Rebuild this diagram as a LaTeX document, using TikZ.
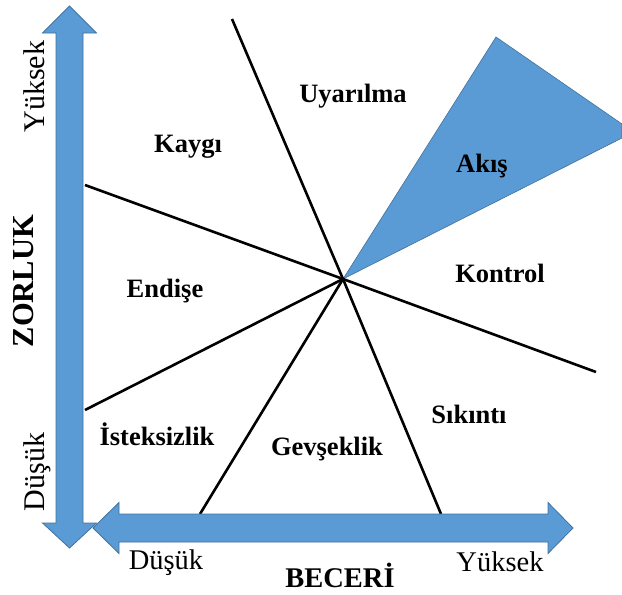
\documentclass[tikz,border=0pt]{standalone}
\usepackage{fontspec}
\setmainfont{Liberation Serif}
\usetikzlibrary{positioning}
\definecolor{axisblue}{HTML}{5B9BD5}
\definecolor{axisedge}{HTML}{41719C}
\tikzset{
  zone/.style={font=\bfseries\fontsize{26.5}{28}\selectfont, anchor=base, inner sep=0pt},
  scale label/.style={font=\fontsize{28.5}{30}\selectfont, anchor=base, inner sep=0pt},
  side label/.style={font=\fontsize{30}{31}\selectfont, anchor=base, inner sep=0pt, rotate=90},
  divider/.style={line width=2.6pt, black},
  axis arrow/.style={fill=axisblue, draw=axisedge, line width=0.8pt, line join=miter},
}
\begin{document}
\begin{tikzpicture}[x=1pt, y=-1pt]
  \useasboundingbox (0,0) rectangle (622,595);

  % Centre and end points
  \coordinate (c) at (343,279);
  \coordinate (top) at (232,19);
  \coordinate (right) at (596,372);
  \coordinate (left up) at (85,185);
  \coordinate (left down) at (85,410);
  \coordinate (bottom left) at (200,514);
  \coordinate (bottom right) at (441,514);
  \coordinate (apex) at (496,37);
  \coordinate (edge up) at (622,124);
  \coordinate (edge down) at (622,138);

  % Flow wedge
  \fill[axisblue, draw=axisedge, line width=0.6pt] (c) -- (apex) -- (edge up) -- (edge down) -- cycle;

  % Dividers
  \draw[divider] (c) -- (top);
  \draw[divider] (c) -- (right);
  \draw[divider] (c) -- (left up);
  \draw[divider] (c) -- (left down);
  \draw[divider] (c) -- (bottom left);
  \draw[divider] (c) -- (bottom right);

  % Axes
  \draw[axis arrow] (69.5,6) -- (96.5,33) -- (83,33) -- (83,523) -- (96.5,523) -- (69.5,548)
    -- (42.5,523) -- (56,523) -- (56,33) -- (42.5,33) -- cycle;
  \draw[axis arrow] (93,528) -- (119,502.5) -- (119,514) -- (548,514) -- (548,502.5) -- (573,528)
    -- (548,553.5) -- (548,542) -- (119,542) -- (119,553.5) -- cycle;

  % Zones
  \node[zone] (kaygi) at (188,152) {Kaygı};
  \node[zone] (uyarilma) at (353,102) {Uyarılma};
  \node[zone] (akis) at (482,172) {Akış};
  \node[zone] (kontrol) at (500,282) {Kontrol};
  \node[zone] (endise) at (165,297) {Endişe};
  \node[zone] (isteksizlik) at (157,445) {İsteksizlik};
  \node[zone] (gevseklik) at (327,455) {Gevşeklik};
  \node[zone] (sikinti) at (469,423) {Sıkıntı};

  % Axis labels
  \node[scale label] (beceri low) at (166,569) {Düşük};
  \node[scale label] (beceri high) at (500,571) {Yüksek};
  \node[scale label, font=\bfseries\fontsize{28.5}{30}\selectfont] (beceri) at (340,587) {BECERİ};
  \node[side label] (zorluk high) at (45,86.5) {Yüksek};
  \node[side label] (zorluk low) at (45,472) {Düşük};
  \node[side label, font=\bfseries\fontsize{30.5}{31}\selectfont] (zorluk) at (33,281) {ZORLUK};
\end{tikzpicture}
\end{document}
